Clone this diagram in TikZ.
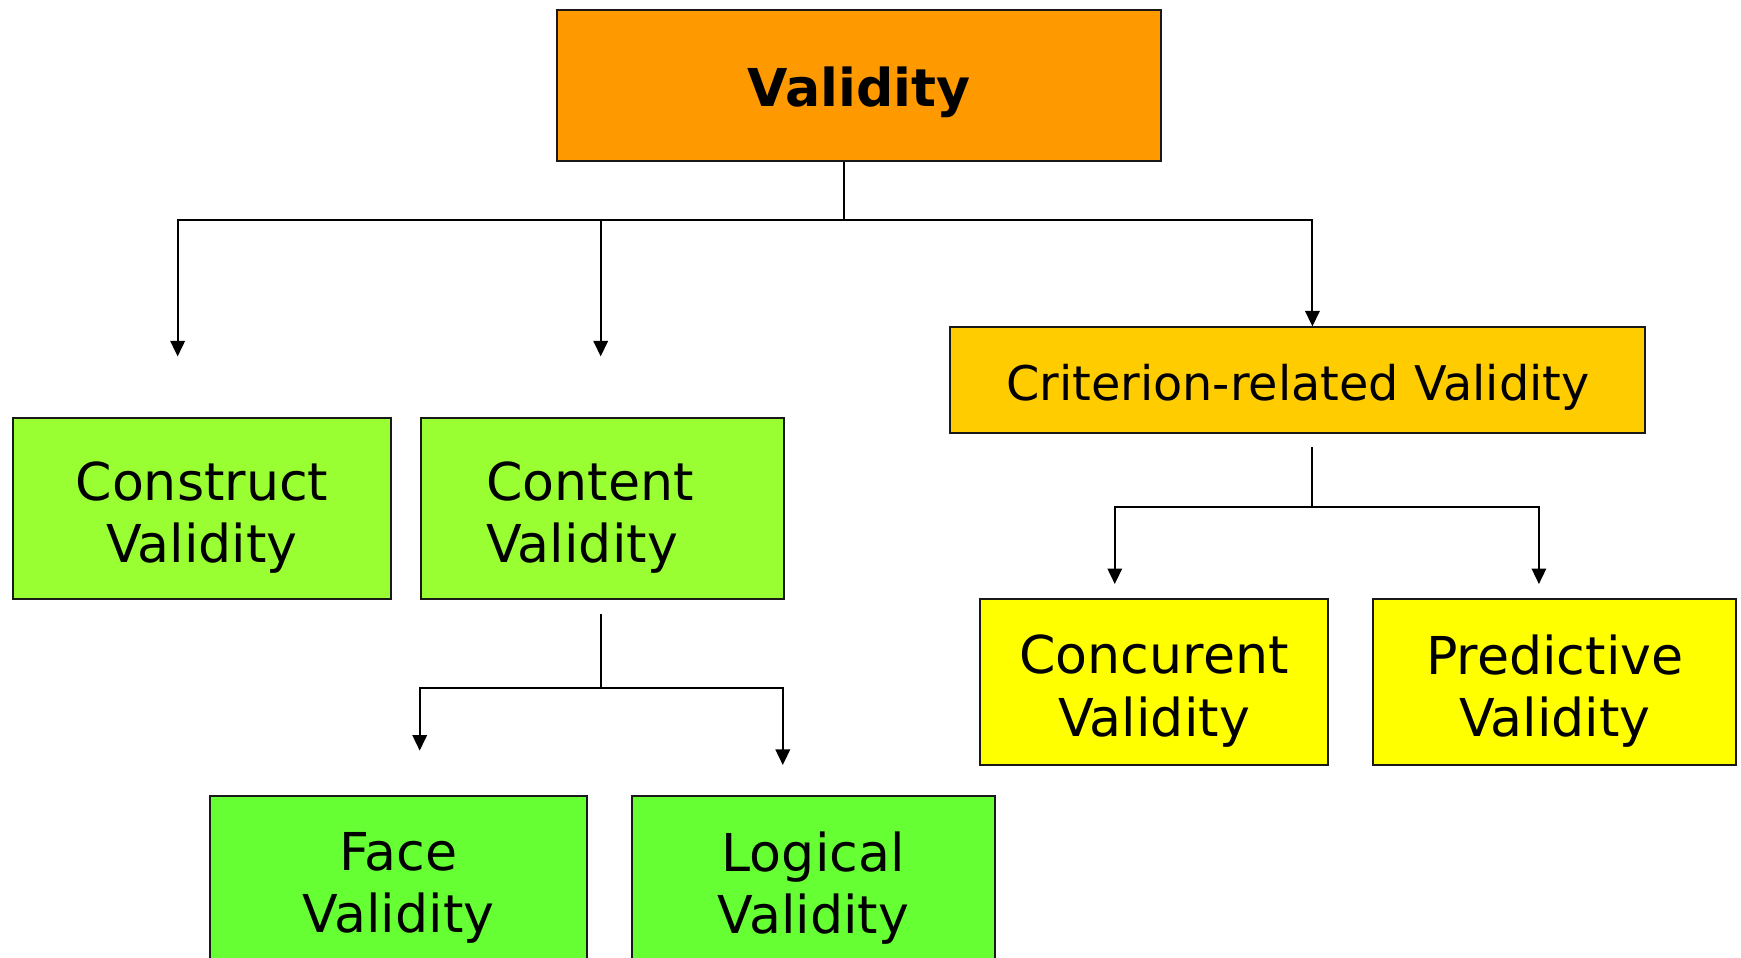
\documentclass[tikz,border=0pt]{standalone}
\usepackage{fontspec}
\setmainfont{DejaVu Sans}
\usetikzlibrary{arrows.meta}
\definecolor{cOrange}{HTML}{FF9900}
\definecolor{cGreenA}{HTML}{99FF33}
\definecolor{cGreenB}{HTML}{66FF33}
\definecolor{cGold}{HTML}{FFCC00}
\definecolor{cYellow}{HTML}{FFFF00}
\tikzset{
  boxnode/.style={draw=black!90, line width=1.8pt, inner sep=0pt, anchor=north west},
  bigtext/.style={font=\fontsize{47}{56}\selectfont, inner sep=0pt},
  conn/.style={line width=1.8pt, black},
  arr/.style={conn, -{Triangle[length=14pt,width=13pt]}},
}
\begin{document}
\begin{tikzpicture}[x=1pt,y=1pt]
\useasboundingbox (0,0) rectangle (1568,-862.8);
\clip (0,0) rectangle (1568,-862.8);
% boxes
\node[boxnode, fill=cOrange, minimum width=544, minimum height=136] (top) at (501,-8) {};
\node[boxnode, fill=cGold, minimum width=626, minimum height=95] (crit) at (855,-294) {};
\node[boxnode, fill=cGreenA, minimum width=340, minimum height=163] (cons) at (11,-376) {};
\node[boxnode, fill=cGreenA, minimum width=327, minimum height=163] (cont) at (378,-376) {};
\node[boxnode, fill=cGreenB, minimum width=340, minimum height=154] (face) at (188,-716) {};
\node[boxnode, fill=cGreenB, minimum width=327, minimum height=154] (logi) at (568,-716) {};
\node[boxnode, fill=cYellow, minimum width=313, minimum height=149] (conc) at (882,-539) {};
\node[boxnode, fill=cYellow, minimum width=327, minimum height=149] (pred) at (1236,-539) {};
% texts
\node[font=\fontsize{47}{56}\selectfont\bfseries, inner sep=0pt] (topT) at ([yshift=-6]top.center) {Validity};
\node[font=\fontsize{43}{52}\selectfont, inner sep=0pt] (critT) at ([yshift=-6]crit.center) {Criterion-related Validity};
\node[bigtext, align=center] (consT) at ([yshift=-8]cons.center) {Construct\\Validity};
\node[bigtext, align=left] (contT) at ([xshift=-11,yshift=-8]cont.center) {Content\\Validity};
\node[bigtext, align=center] (faceT) at ([yshift=-6]face.center) {Face\\Validity};
\node[bigtext, align=center] (logiT) at ([yshift=-6]logi.center) {Logical\\Validity};
\node[bigtext, align=center] (concT) at ([yshift=-8]conc.center) {Concurent\\Validity};
\node[bigtext, align=center] (predT) at ([yshift=-8]pred.center) {Predictive\\Validity};
% junction and arrow-end coordinates
\coordinate (j1) at (760,-198);
\coordinate (a1) at (160,-321);
\coordinate (a2) at (541,-321);
\coordinate (a3) at (1182,-294);
\coordinate (c0) at (541,-553);
\coordinate (j2) at (541,-620);
\coordinate (a4) at (378,-676);
\coordinate (a5) at (705,-689);
\coordinate (k0) at (1182,-403);
\coordinate (j3) at (1182,-457);
\coordinate (a6) at (1004,-526);
\coordinate (a7) at (1386,-526);
% connectors
\draw[conn] (top.south -| j1) -- (j1);
\draw[arr] (j1) -| (a1);
\draw[arr] (j1) -| (a2);
\draw[arr] (j1) -| (a3);
\draw[conn] (c0) -- (j2);
\draw[arr] (j2) -| (a4);
\draw[arr] (j2) -| (a5);
\draw[conn] (k0) -- (j3);
\draw[arr] (j3) -| (a6);
\draw[arr] (j3) -| (a7);
\end{tikzpicture}
\end{document}
